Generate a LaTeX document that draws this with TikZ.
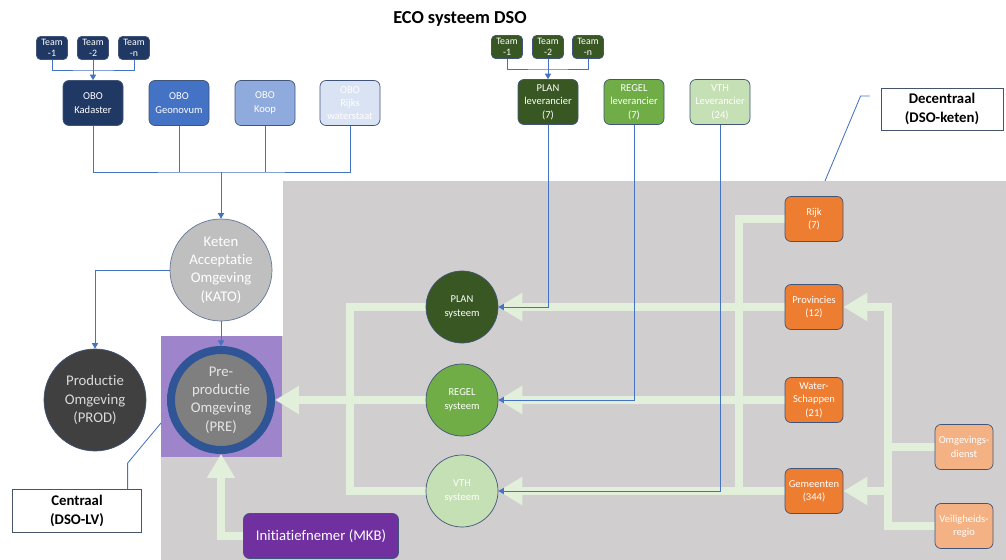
\documentclass[tikz,border=0pt]{standalone}
\usepackage{fontspec}
\setmainfont{Carlito}[Ligatures=NoCommon]
\usetikzlibrary{positioning}
\usetikzlibrary{calc}
\usetikzlibrary{arrows.meta}
\definecolor{kadaster colour}{HTML}{203864}
\definecolor{geonovum colour}{HTML}{4472C4}
\definecolor{koop colour}{HTML}{8FAADC}
\definecolor{rws colour}{HTML}{DAE3F3}
\definecolor{plan colour}{HTML}{385723}
\definecolor{regel colour}{HTML}{70AD47}
\definecolor{vth colour}{HTML}{C5E0B4}
\definecolor{bestuur colour}{HTML}{ED7D31}
\definecolor{keten colour}{HTML}{F4B183}
\definecolor{field colour}{HTML}{D0CECE}
\definecolor{flow colour}{HTML}{E2EFDA}
\definecolor{link colour}{HTML}{4472C4}
\definecolor{edge colour}{HTML}{41557A}
\definecolor{kato colour}{HTML}{BFBFBF}
\definecolor{prod colour}{HTML}{404040}
\definecolor{pre colour}{HTML}{7F7F7F}
\definecolor{ring colour}{HTML}{2F5597}
\definecolor{lv colour}{HTML}{9E85CB}
\definecolor{mkb colour}{HTML}{7030A0}
\definecolor{note colour}{HTML}{44546A}
\newcommand{\fontTeam}{\fontsize{7}{8}\selectfont}
\newcommand{\fontBox}{\fontsize{7.5}{9.5}\selectfont}
\newcommand{\fontBig}{\fontsize{10.5}{13}\selectfont}
\newcommand{\fontNote}{\bfseries\fontsize{10.5}{13}\selectfont}
\tikzset{
    % Thin blue connectors, with or without a small head
    wire/.style={color=link colour, line width=0.7pt},
    link/.style={wire, -{Triangle[width=4.5pt,length=4pt]}},
    callout/.style={color=link colour, line width=0.6pt},
%
    % Broad light green flows between the parties
    flow/.style={color=flow colour, line width=6pt},
    flow arrow/.style={flow, -{Triangle[width=19pt,length=17pt]}},
%
    % We almost always want centre aligned node text
    every node/.style={align=center},
}
\pgfdeclarelayer{background}
\pgfsetlayers{background,main}

\begin{document}
\begin{tikzpicture}[
    x=0.25mm, y=-0.25mm,
    box/.style={draw=edge colour, line width=0.5pt, rounded corners=1.5mm,
        inner sep=0, text=white},
    team/.style={box, rounded corners=1mm, minimum width=7.75mm,
        minimum height=5.75mm, font=\fontTeam},
    obo/.style={box, minimum width=15mm, minimum height=11.25mm, font=\fontBox},
    overheid/.style={box, fill=bestuur colour, minimum width=14.5mm,
        minimum height=11.25mm, font=\fontBox},
    systeem/.style={circle, draw=edge colour, line width=0.5pt, minimum size=18mm,
        inner sep=0, text=white, font=\fontBox},
    omgeving/.style={circle, draw=edge colour, line width=0.5pt, minimum size=25.5mm,
        inner sep=0, font=\fontBig},
    note/.style={draw=note colour, fill=white, line width=0.6pt, inner sep=0,
        font=\fontNote},
    ]

\useasboundingbox (0,0) rectangle (1006,560);

\node [font=\bfseries\fontsize{13}{15}\selectfont] (title) at (460,19) {ECO systeem DSO};

% Landelijke voorziening: teams and OBO parties
\foreach \n/\x in {1/52, 2/93, n/134}
    \node [team, fill=kadaster colour] (obo team \n) at (\x,48) {Team\\-\n};
\node [obo, fill=kadaster colour] (kadaster) at (93,103) {OBO\\Kadaster};
\node [obo, fill=geonovum colour] (geonovum) at (179,103) {OBO\\Geonovum};
\node [obo, fill=koop colour] (koop) at (265,103) {OBO\\Koop};
\node [obo, fill=rws colour] (rws) at (350,103) {OBO\\Rijks\\waterstaat};

% Leveranciers and their teams
\foreach \n/\x in {1/507, 2/548, n/588}
    \node [team, fill=plan colour] (lev team \n) at (\x,47) {Team\\-\n};
\node [obo, fill=plan colour] (plan lev) at (548,102) {PLAN\\leverancier\\(7)};
\node [obo, fill=regel colour] (regel lev) at (634,102) {REGEL\\leverancier\\(7)};
\node [obo, fill=vth colour] (vth lev) at (720,102) {VTH\\Leverancier\\(24)};

% Omgevingen
\node [omgeving, fill=kato colour, draw=koop colour!70!black, text=white] (kato)
    at (221,270) {Keten\\Acceptatie\\Omgeving\\(KATO)};
\node [omgeving, fill=prod colour, text=black!15] (prod)
    at (95,400) {Productie\\Omgeving\\(PROD)};
\node [omgeving, fill=pre colour, draw=ring colour, line width=2mm,
    minimum size=25mm, text=black!10] (pre)
    at (221,400) {Pre-\\productie\\Omgeving\\(PRE)};

% Systems in the chain
\node [systeem, fill=plan colour] (plan sys) at (462,307) {PLAN\\systeem};
\node [systeem, fill=regel colour] (regel sys) at (462,400) {REGEL\\systeem};
\node [systeem, fill=vth colour] (vth sys) at (462,491) {VTH\\systeem};

% Bevoegde gezagen
\node [overheid] (rijk) at (814,219) {Rijk\\(7)};
\node [overheid] (provincies) at (814,307) {Provincies\\(12)};
\node [overheid] (waterschappen) at (814,400) {Water-\\Schappen\\(21)};
\node [overheid] (gemeenten) at (814,491) {Gemeenten\\(344)};
\node [overheid, fill=keten colour] (omgevingsdienst) at (964,447) {Omgevings-\\dienst};
\node [overheid, fill=keten colour] (veiligheidsregio) at (964,526) {Veiligheids-\\regio};

\node [box, fill=mkb colour, minimum width=38.75mm, minimum height=11.25mm,
    font=\fontBig] (mkb) at (321,536) {Initiatiefnemer (MKB)};

% Labels for the two halves
\node [note, minimum width=32.25mm, minimum height=10.75mm] (centraal)
    at (77,511) {Centraal\\(DSO-LV)};
\node [note, minimum width=30.5mm, minimum height=10.5mm] (decentraal)
    at (942,109) {Decentraal\\(DSO-keten)};

% Team connectors
\coordinate (obo teams join) at (93,70);
\draw [wire] (obo team 1.south) |- (obo teams join) -| (obo team n.south);
\draw [link] (obo team 2) -- (kadaster);
\coordinate (lev teams join) at (548,69);
\draw [wire] (lev team 1.south) |- (lev teams join) -| (lev team n.south);
\draw [link] (lev team 2) -- (plan lev);

% OBO parties feed the acceptance environment
\coordinate (obo join) at (221,172);
\draw [wire] (kadaster) |- (obo join) -| (rws);
\draw [wire] (geonovum) -- (geonovum |- obo join);
\draw [wire] (koop) -- (koop |- obo join);
\draw [link] (obo join) -- (kato);
\draw [link] (kato) -| (prod);
\draw [link] (kato) -- (pre);

% Leveranciers deliver the systems
\draw [link] (plan lev) |- (plan sys);
\draw [link] (regel lev) |- (regel sys);
\draw [link] (vth lev) |- (vth sys);

% Callouts
\coordinate (centraal tip) at (161,423);
\draw [callout] ($(centraal.north west)!0.89!(centraal.north east)$)
    -- ++(0,-26) -- (centraal tip);
\coordinate (decentraal tip) at (825,181);
\draw [callout] ($(decentraal.west)+(-11,-13)$) -- ++(-9,0) -- (decentraal tip);

\begin{pgfonlayer}{background}
    % Grey field of the chain, purple field of the LV
    \fill [field colour] (283,181) rectangle (1006,560);
    \fill [field colour] (161,336) rectangle (283,560);
    \fill [lv colour] (161,336) rectangle (282,457);

    \coordinate (left bus) at (350,307);
    \coordinate (mid bus) at (739,491);
    \coordinate (right bus) at (888,307);
    \draw [flow] (plan sys) -- (left bus) -- (left bus |- vth sys) -- (vth sys);
    \draw [flow arrow] (provincies) -- (plan sys.east);
    \draw [flow arrow] (waterschappen) -- (regel sys.east);
    \draw [flow arrow] (regel sys) -- (pre.east);
    \draw [flow arrow] (gemeenten) -- (vth sys.east);
    \draw [flow] (rijk) -| (mid bus);
    \draw [flow arrow] (veiligheidsregio) -| (right bus) -- (provincies.east);
    \draw [flow arrow] (right bus |- gemeenten) -- (gemeenten.east);
    \draw [flow] (omgevingsdienst) -- (omgevingsdienst -| right bus);
    \draw [flow arrow] (mkb) -| (pre.south);
\end{pgfonlayer}

\end{tikzpicture}
\end{document}
